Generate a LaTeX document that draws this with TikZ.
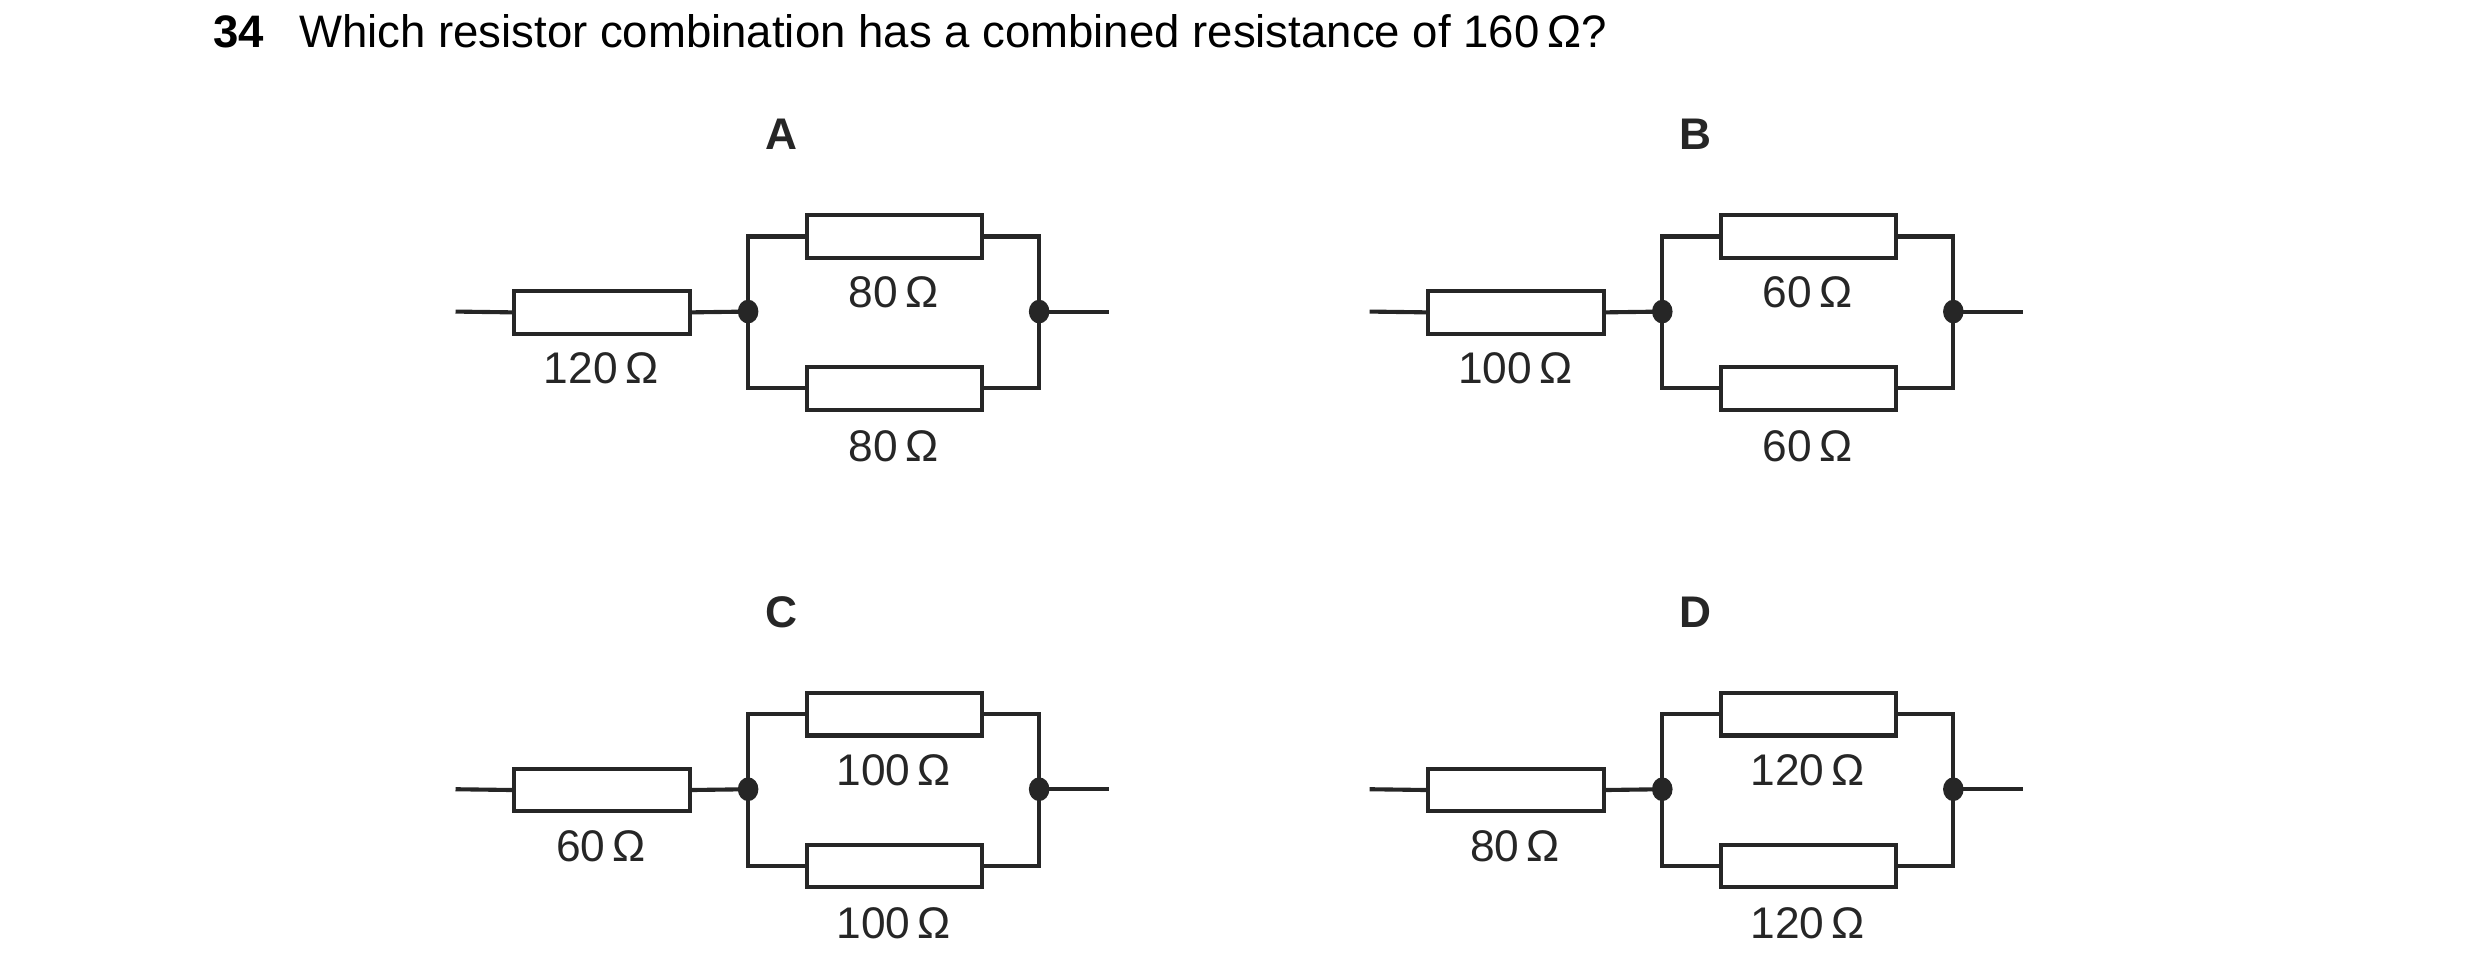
\documentclass[tikz,border=0pt]{standalone}
\usepackage{fontspec}
\setmainfont{Liberation Sans}
\begin{document}
\begin{tikzpicture}[x=0.5pt,y=-0.5pt,
  wire/.style={line width=1.3pt,black!85},
  res/.style={draw=black!85,line width=1.3pt,minimum width=55.5pt,minimum height=13.5pt,inner sep=0pt},
  dot/.style={ellipse,fill=black!85,inner sep=0pt,minimum width=6.5pt,minimum height=7.5pt},
  lab/.style={font=\fontsize{14}{16}\selectfont,text=black!85},
  head/.style={font=\bfseries\fontsize{14}{16}\selectfont,text=black!85}]
\usetikzlibrary{shapes.geometric}
\useasboundingbox (0,0) rectangle (1568,619);
\node[anchor=west,font=\bfseries\fontsize{14.4}{16}\selectfont] (num) at (128,20) {34};
\node[anchor=west,font=\fontsize{14.4}{16}\selectfont] (q) at (182,20) {Which resistor combination has a combined resistance of 160\,Ω?};
\foreach \dx/\dy/\L/\s/\p [count=\i] in {0/0/A/120/80, 578/0/B/100/60, 0/302/C/60/100, 578/302/D/80/120}{
  \begin{scope}[shift={(\dx,\dy)}]
  \node[head] (h\i) at (494,85) {\L};
  \coordinate (in\i) at (288,197);
  \coordinate (out\i) at (701,197);
  \node[res] (rs\i) at (380.5,197.5) {};
  \node[res] (rt\i) at (565.5,149.5) {};
  \node[res] (rb\i) at (565.5,245.5) {};
  \node[dot] (jl\i) at (473,197) {};
  \node[dot] (jr\i) at (657,197) {};
  \draw[wire] (in\i) -- (rs\i.west);
  \draw[wire] (rs\i.east) -- (jl\i.center);
  \draw[wire] (jr\i.center) -- (out\i);
  \draw[wire] (rt\i.west) -| (jl\i.center) |- (rb\i.west);
  \draw[wire] (rt\i.east) -| (jr\i.center) |- (rb\i.east);
  \node[lab] (ls\i) at (380,233) {\s\,Ω};
  \node[lab] (lt\i) at (565,185) {\p\,Ω};
  \node[lab] (lb\i) at (565,282) {\p\,Ω};
  \end{scope}}
\end{tikzpicture}
\end{document}
